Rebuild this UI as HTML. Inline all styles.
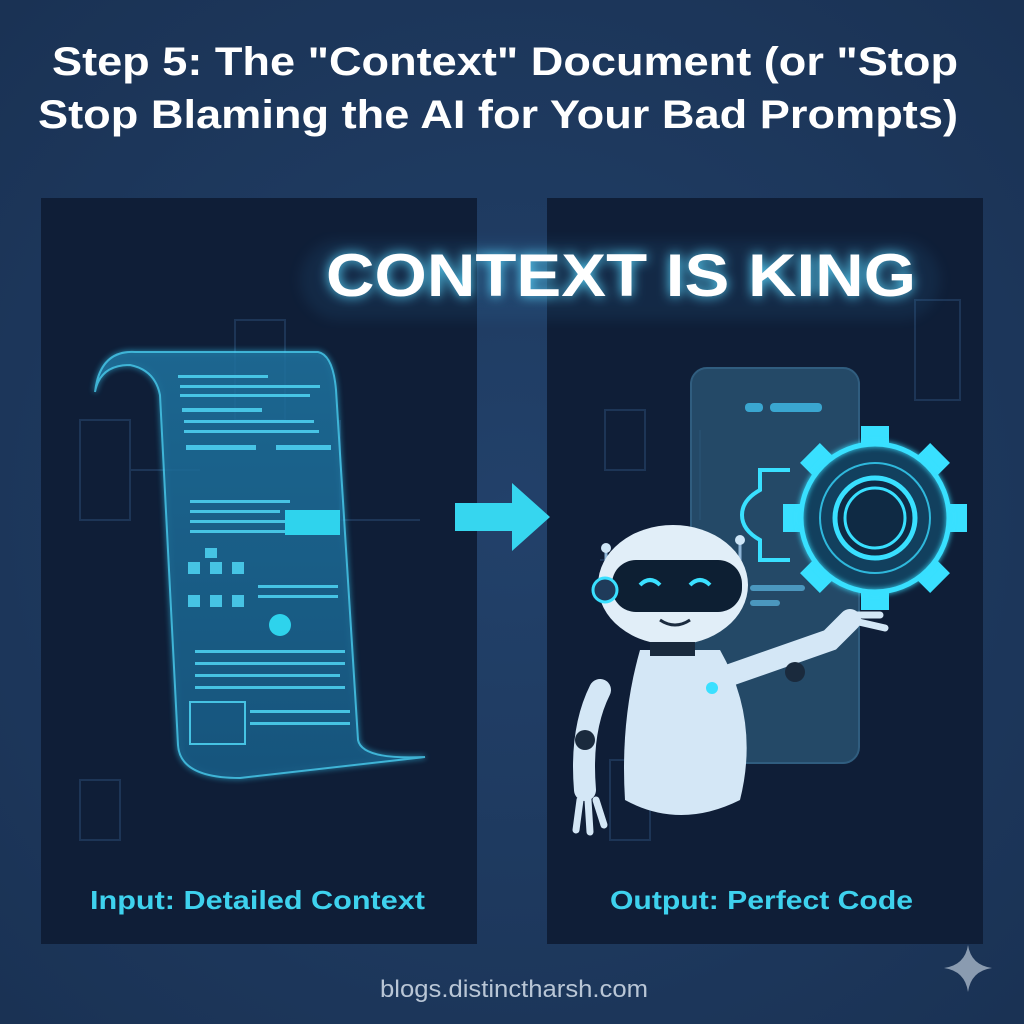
<!DOCTYPE html>
<html><head><meta charset="utf-8"><style>
html,body{margin:0;padding:0;width:1024px;height:1024px;overflow:hidden;background:#1d3659;}
svg{display:block}
</style></head><body>
<svg width="1024" height="1024" viewBox="0 0 1024 1024" xmlns="http://www.w3.org/2000/svg">
<defs>
<radialGradient id="bg" cx="50%" cy="50%" r="70%"><stop offset="0" stop-color="#22416a"/><stop offset="1" stop-color="#1a3254"/></radialGradient>
<linearGradient id="doc" x1="0" y1="0" x2="0" y2="1"><stop offset="0" stop-color="#1f6f9a"/><stop offset="1" stop-color="#17567f"/></linearGradient>
<filter id="glow"><feGaussianBlur stdDeviation="6"/></filter>
<filter id="g2"><feGaussianBlur stdDeviation="3"/></filter>
</defs>
<rect width="1024" height="1024" fill="url(#bg)"/>
<text x="52" y="75" textLength="906" lengthAdjust="spacingAndGlyphs" font-family="Liberation Sans, sans-serif" font-weight="bold" font-size="40" fill="#fff">Step 5: The "Context" Document (or "Stop</text>
<text x="38" y="128" textLength="920" lengthAdjust="spacingAndGlyphs" font-family="Liberation Sans, sans-serif" font-weight="bold" font-size="40" fill="#fff">Stop Blaming the AI for Your Bad Prompts)</text>
<rect x="41" y="198" width="436" height="746" fill="#0f1e37"/>
<rect x="547" y="198" width="436" height="746" fill="#0f1e37"/>
<g stroke="#1d3556" stroke-width="2" fill="none">
<rect x="80" y="420" width="50" height="100"/><rect x="235" y="320" width="50" height="100"/><rect x="80" y="780" width="40" height="60"/>
<rect x="915" y="300" width="45" height="100"/><rect x="605" y="410" width="40" height="60"/><rect x="610" y="760" width="40" height="80"/>
<path d="M130 470H200M340 420V520H420M600 560H680M700 430V520"/>
</g>
<rect x="300" y="240" width="640" height="80" rx="40" fill="#2a6a9a" opacity="0.15" filter="url(#glow)"/>
<text x="326" y="296" textLength="590" lengthAdjust="spacingAndGlyphs" font-family="Liberation Sans, sans-serif" font-weight="bold" font-size="60" fill="#5ad8ff" filter="url(#glow)">CONTEXT IS KING</text>
<text x="326" y="296" textLength="590" lengthAdjust="spacingAndGlyphs" font-family="Liberation Sans, sans-serif" font-weight="bold" font-size="60" fill="#fff">CONTEXT IS KING</text>
<!-- document -->
<g>
<path d="M95 392 Q100 350 135 352 L318 352 Q333 355 336 390 L358 740 Q362 760 425 757 L240 778 Q180 778 178 745 L160 395 Q155 370 130 365 Q100 365 95 392Z" fill="#1a7fb0" opacity="0.55" stroke="#39d3ff" stroke-width="3" filter="url(#g2)"/>
<path d="M95 392 Q100 350 135 352 L318 352 Q333 355 336 390 L358 740 Q362 760 425 757 L240 778 Q180 778 178 745 L160 395 Q155 370 130 365 Q100 365 95 392Z" fill="url(#doc)" opacity="0.7" stroke="#4fdcff" stroke-width="2"/>
<g fill="#4fd6f5" opacity="0.85">
<rect x="178" y="375" width="90" height="3"/><rect x="180" y="385" width="140" height="3"/><rect x="180" y="394" width="130" height="3"/><rect x="182" y="408" width="80" height="4"/>
<rect x="184" y="420" width="130" height="3"/><rect x="184" y="430" width="135" height="3"/><rect x="186" y="445" width="70" height="5"/><rect x="276" y="445" width="55" height="5"/>
<rect x="190" y="500" width="100" height="3"/><rect x="190" y="510" width="90" height="3"/><rect x="190" y="520" width="100" height="3"/><rect x="190" y="530" width="95" height="3"/>
<rect x="285" y="510" width="55" height="25" fill="#33e8ff"/>
<rect x="205" y="548" width="12" height="10"/><rect x="188" y="562" width="12" height="12"/><rect x="210" y="562" width="12" height="12"/><rect x="232" y="562" width="12" height="12"/>
<rect x="188" y="595" width="12" height="12"/><rect x="210" y="595" width="12" height="12"/><rect x="232" y="595" width="12" height="12"/>
<rect x="258" y="585" width="80" height="3"/><rect x="258" y="595" width="80" height="3"/><circle cx="280" cy="625" r="11" fill="#33e8ff"/>
<rect x="195" y="650" width="150" height="3"/><rect x="195" y="662" width="150" height="3"/><rect x="195" y="674" width="145" height="3"/><rect x="195" y="686" width="150" height="3"/><rect x="250" y="710" width="100" height="3"/><rect x="250" y="722" width="100" height="3"/>
<rect x="190" y="702" width="55" height="42" fill="none" stroke="#4fd6f5" stroke-width="2"/>
</g></g>
<!-- arrow -->
<path d="M455 503 H512 V483 L550 517 L512 551 V531 H455 Z" fill="#36d6ef"/>
<!-- phone -->
<rect x="691" y="368" width="168" height="395" rx="16" fill="#2b5878" opacity="0.75" stroke="#3c7397" stroke-width="2"/>
<rect x="745" y="403" width="18" height="9" rx="4" fill="#3aa6d0"/><rect x="770" y="403" width="52" height="9" rx="4" fill="#3aa6d0"/>
<rect x="750" y="585" width="55" height="6" rx="3" fill="#4b97be"/><rect x="750" y="600" width="30" height="6" rx="3" fill="#4b97be"/>
<!-- half gear outline -->
<path d="M790 470 H760 V490 Q742 500 742 515 Q742 530 760 540 V560 H790" fill="none" stroke="#39e0ff" stroke-width="4"/>
<!-- gear -->
<g transform="translate(875 518)">
<g fill="#39e0ff">
<rect x="-14" y="-92" width="28" height="24"/><rect x="-14" y="68" width="28" height="24"/><rect x="68" y="-14" width="24" height="28"/><rect x="-92" y="-14" width="24" height="28"/>
<rect x="-14" y="-92" width="28" height="24" transform="rotate(45)"/><rect x="-14" y="-92" width="28" height="24" transform="rotate(135)"/><rect x="-14" y="-92" width="28" height="24" transform="rotate(225)"/><rect x="-14" y="-92" width="28" height="24" transform="rotate(315)"/>
</g>
<circle r="74" fill="#12405e" stroke="#39e0ff" stroke-width="5"/>
<circle r="74" fill="none" stroke="#39e0ff" stroke-width="5" filter="url(#g2)"/>
<circle r="55" fill="none" stroke="#2fb8dc" stroke-width="2"/>
<circle r="40" fill="#0f2a44" stroke="#39e0ff" stroke-width="5"/>
<circle r="30" fill="none" stroke="#39e0ff" stroke-width="3"/>
</g>
<!-- robot -->
<g>
<line x1="606" y1="548" x2="606" y2="590" stroke="#8fb6d8" stroke-width="3"/><circle cx="606" cy="548" r="5" fill="#cfe6f7"/>
<line x1="740" y1="540" x2="740" y2="580" stroke="#8fb6d8" stroke-width="3"/><circle cx="740" cy="540" r="5" fill="#cfe6f7"/>
<path d="M640 650 Q620 720 625 800 Q680 830 740 800 Q760 720 720 650Z" fill="#d4e7f6"/>
<ellipse cx="673" cy="585" rx="75" ry="60" fill="#e1eef8"/>
<rect x="612" y="560" width="130" height="52" rx="24" fill="#0d1f33"/>
<path d="M640 585 q10 -10 20 0 M690 585 q10 -10 20 0" stroke="#3ae0ff" stroke-width="4" fill="none"/>
<path d="M660 620 q15 10 30 0" stroke="#1b2b3f" stroke-width="3" fill="none"/>
<circle cx="605" cy="590" r="12" fill="#1f3b5a" stroke="#3ae0ff" stroke-width="3"/>
<rect x="650" y="642" width="45" height="14" fill="#1a2a3d"/>
<circle cx="712" cy="688" r="6" fill="#3ae0ff"/>
<path d="M730 675 L830 640 L850 620" stroke="#d4e7f6" stroke-width="22" fill="none" stroke-linecap="round"/>
<circle cx="795" cy="672" r="10" fill="#1a2a3d"/>
<path d="M600 690 Q580 730 585 790" stroke="#d4e7f6" stroke-width="22" fill="none" stroke-linecap="round"/>
<circle cx="585" cy="740" r="10" fill="#1a2a3d"/>
<path d="M580 800 l-4 30 M588 800 l2 32 M596 800 l8 25" stroke="#d4e7f6" stroke-width="7" stroke-linecap="round"/>
<path d="M850 615 l30 0 M850 620 l35 8" stroke="#d4e7f6" stroke-width="7" stroke-linecap="round"/>
</g>
<text x="90" y="909" textLength="335" lengthAdjust="spacingAndGlyphs" font-family="Liberation Sans, sans-serif" font-weight="bold" font-size="26" fill="#3ed2ee">Input: Detailed Context</text>
<text x="610" y="909" textLength="303" lengthAdjust="spacingAndGlyphs" font-family="Liberation Sans, sans-serif" font-weight="bold" font-size="26" fill="#3ed2ee">Output: Perfect Code</text>
<text x="380" y="997" textLength="268" lengthAdjust="spacingAndGlyphs" font-family="Liberation Sans, sans-serif" font-size="24" fill="#b9c6d6">blogs.distinctharsh.com</text>
<path d="M968 945 Q971 965 992 968 Q971 971 968 992 Q965 971 944 968 Q965 965 968 945Z" fill="#8a9bb0"/>
</svg>
</body></html>
